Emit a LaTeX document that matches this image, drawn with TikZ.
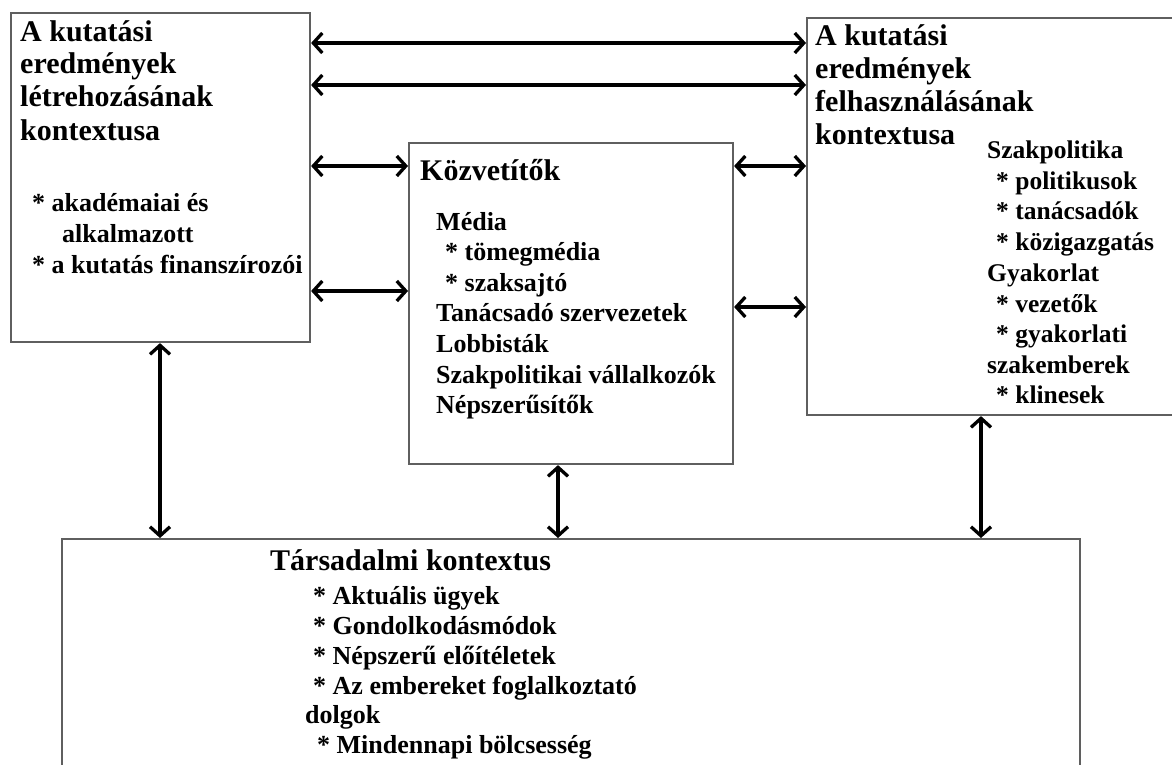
\documentclass[tikz,border=0pt]{standalone}
\usepackage{fontspec}
\setmainfont{Liberation Serif}
\usetikzlibrary{arrows.meta}
\definecolor{boxgray}{RGB}{95,95,95}
\tikzset{
  box/.style={draw=boxgray, line width=2.1pt, rectangle, inner sep=0pt, anchor=north west, fill=white},
  ttl/.style={font=\fontsize{30}{30}\selectfont\bfseries, anchor=base west, inner sep=0pt},
  itm/.style={font=\fontsize{26}{26}\selectfont\bfseries, anchor=base west, inner sep=0pt},
  ritm/.style={font=\fontsize{25.5}{25.5}\selectfont\bfseries, anchor=base west, inner sep=0pt},
  bitm/.style={font=\fontsize{26}{26}\selectfont\bfseries, anchor=base west, inner sep=0pt},
  biarrow/.style={line width=3.3pt, {Straight Barb[length=9pt,width=20pt]}-{Straight Barb[length=9pt,width=20pt]}},
}
\begin{document}
\begin{tikzpicture}[x=1pt,y=-1pt]
\clip (0,0) rectangle (1172,765);
\fill[white] (0,0) rectangle (1172,765);
% boxes
\node[box, minimum width=299pt, minimum height=329pt] (lbox) at (10,12) {};
\node[box, minimum width=324pt, minimum height=321pt] (mbox) at (408,142) {};
\node[box, minimum width=384pt, minimum height=397pt] (rbox) at (806,17) {};
\node[box, minimum width=1018pt, minimum height=247pt] (bbox) at (61,538) {};
% left box text
\node[ttl] (l1) at (20,42) {A kutatási};
\node[ttl] (l2) at (20,74) {eredmények};
\node[ttl] (l3) at (20,107) {létrehozásának};
\node[ttl] (l4) at (20,140) {kontextusa};
\node[itm] (l5) at (32,211) {* akadémaiai és};
\node[itm] (l6) at (62,242) {alkalmazott};
\node[itm] (l7) at (32,273) {* a kutatás finanszírozói};
% middle box text
\node[ttl] (m1) at (420,180) {Közvetítők};
\node[itm] (m2) at (436,230) {Média};
\node[itm] (m3) at (445,260.5) {* tömegmédia};
\node[itm] (m4) at (445,291) {* szaksajtó};
\node[itm] (m5) at (436,321.5) {Tanácsadó szervezetek};
\node[itm] (m6) at (436,352) {Lobbisták};
\node[itm] (m7) at (436,383) {Szakpolitikai vállalkozók};
\node[itm] (m8) at (436,413) {Népszerűsítők};
% right box text
\node[ttl] (r1) at (815,46) {A kutatási};
\node[ttl] (r2) at (815,79) {eredmények};
\node[ttl] (r3) at (815,112) {felhasználásának};
\node[ttl] (r4) at (815,145) {kontextusa};
\node[ritm] (r5) at (987,158) {Szakpolitika};
\node[ritm] (r6) at (996,189) {* politikusok};
\node[ritm] (r7) at (996,219) {* tanácsadók};
\node[ritm] (r8) at (996,250) {* közigazgatás};
\node[ritm] (r9) at (987,281) {Gyakorlat};
\node[ritm] (r10) at (996,312) {* vezetők};
\node[ritm] (r11) at (996,342) {* gyakorlati};
\node[ritm] (r12) at (987,373) {szakemberek};
\node[ritm] (r13) at (996,403) {* klinesek};
% bottom box text
\node[ttl] (b1) at (270,570) {Társadalmi kontextus};
\node[bitm] (b2) at (313,604) {* Aktuális ügyek};
\node[bitm] (b3) at (313,634) {* Gondolkodásmódok};
\node[bitm] (b4) at (313,664) {* Népszerű előítéletek};
\node[bitm] (b5) at (313,694) {* Az embereket foglalkoztató};
\node[bitm] (b6) at (305,723) {dolgok};
\node[bitm] (b7) at (317,753) {* Mindennapi bölcsesség};
% level coordinates
\coordinate (y1) at (0,43);
\coordinate (y2) at (0,85);
\coordinate (y3) at (0,166);
\coordinate (y4) at (0,291);
\coordinate (y5) at (0,307);
\coordinate (x1) at (160,0);
\coordinate (x2) at (558,0);
\coordinate (x3) at (981,0);
% arrows
\draw[biarrow] (lbox.east |- y1) -- (rbox.west |- y1);
\draw[biarrow] (lbox.east |- y2) -- (rbox.west |- y2);
\draw[biarrow] (lbox.east |- y3) -- (mbox.west |- y3);
\draw[biarrow] (lbox.east |- y4) -- (mbox.west |- y4);
\draw[biarrow] (mbox.east |- y3) -- (rbox.west |- y3);
\draw[biarrow] (mbox.east |- y5) -- (rbox.west |- y5);
\draw[biarrow] (lbox.south -| x1) -- (bbox.north -| x1);
\draw[biarrow] (mbox.south -| x2) -- (bbox.north -| x2);
\draw[biarrow] (rbox.south -| x3) -- (bbox.north -| x3);
\end{tikzpicture}
\end{document}
